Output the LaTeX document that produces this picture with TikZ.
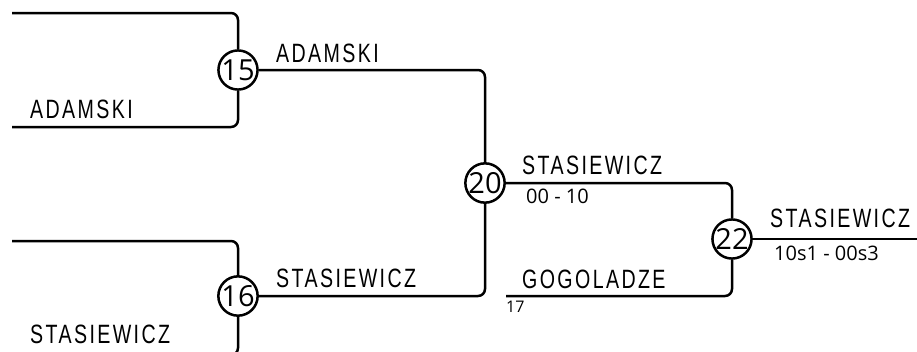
\documentclass[tikz,border=0pt]{standalone}
\usepackage{fontspec}
\setmainfont{Liberation Sans}
\newfontfamily\namefont[FakeStretch=0.74,LetterSpace=9]{Liberation Sans}
\newfontfamily\numfont{Open Sans}
\usepackage{tikz}

\begin{document}
\begin{tikzpicture}[x=1pt, y=-1pt,
    wire/.style={line width=2.5pt, rounded corners=7pt},
    match/.style={draw, circle, line width=2.5pt, minimum size=39pt, inner sep=0pt, font=\numfont\fontsize{29}{29}\selectfont},
    player/.style={anchor=base west, inner sep=0pt, font=\namefont\fontsize{26.5}{26.5}\selectfont},
    score/.style={anchor=base west, inner sep=0pt, font=\numfont\fontsize{20}{20}\selectfont}]
        \useasboundingbox (0, 0) rectangle (917, 351);

        % matches
        \node[match] (m15) at (238, 70) {15};
        \node[match] (m16) at (238, 296) {16};
        \node[match] (m20) at (485, 183) {20};
        \node[match] (m22) at (732, 239) {22};

        % free ends
        \coordinate (a1) at (12, 13);
        \coordinate (a2) at (12, 127);
        \coordinate (b1) at (12, 241);
        \coordinate (b2) at (12, 355);
        \coordinate (c1) at (506, 296);
        \coordinate (e1) at (917, 239);

        \draw[wire] (a1) -| (m15);
        \draw[wire] (a2) -| (m15);
        \draw[wire] (b1) -| (m16);
        \draw[wire] (b2) -| (m16);
        \draw[wire] (m15) -| (m20);
        \draw[wire] (m16) -| (m20);
        \draw[wire] (m20) -| (m22);
        \draw[wire] (c1) -| (m22);
        \draw[wire] (m22) -- (e1);

        % names and scores
        \node[player] (n1) at (30, 118) {ADAMSKI};
        \node[player] (n2) at (30, 343) {STASIEWICZ};
        \node[player] (n3) at (276, 62) {ADAMSKI};
        \node[player] (n4) at (276, 287) {STASIEWICZ};
        \node[player] (n5) at (522, 174) {STASIEWICZ};
        \node[score] (s5) at (526, 203) {00 - 10};
        \node[player] (n6) at (522, 288) {GOGOLADZE};
        \node[score, font=\numfont\fontsize{16}{16}\selectfont] (s6) at (506, 312) {17};
        \node[player] (n7) at (770, 227) {STASIEWICZ};
        \node[score] (s7) at (774, 260) {10s1 - 00s3};
      \end{tikzpicture}
\end{document}
